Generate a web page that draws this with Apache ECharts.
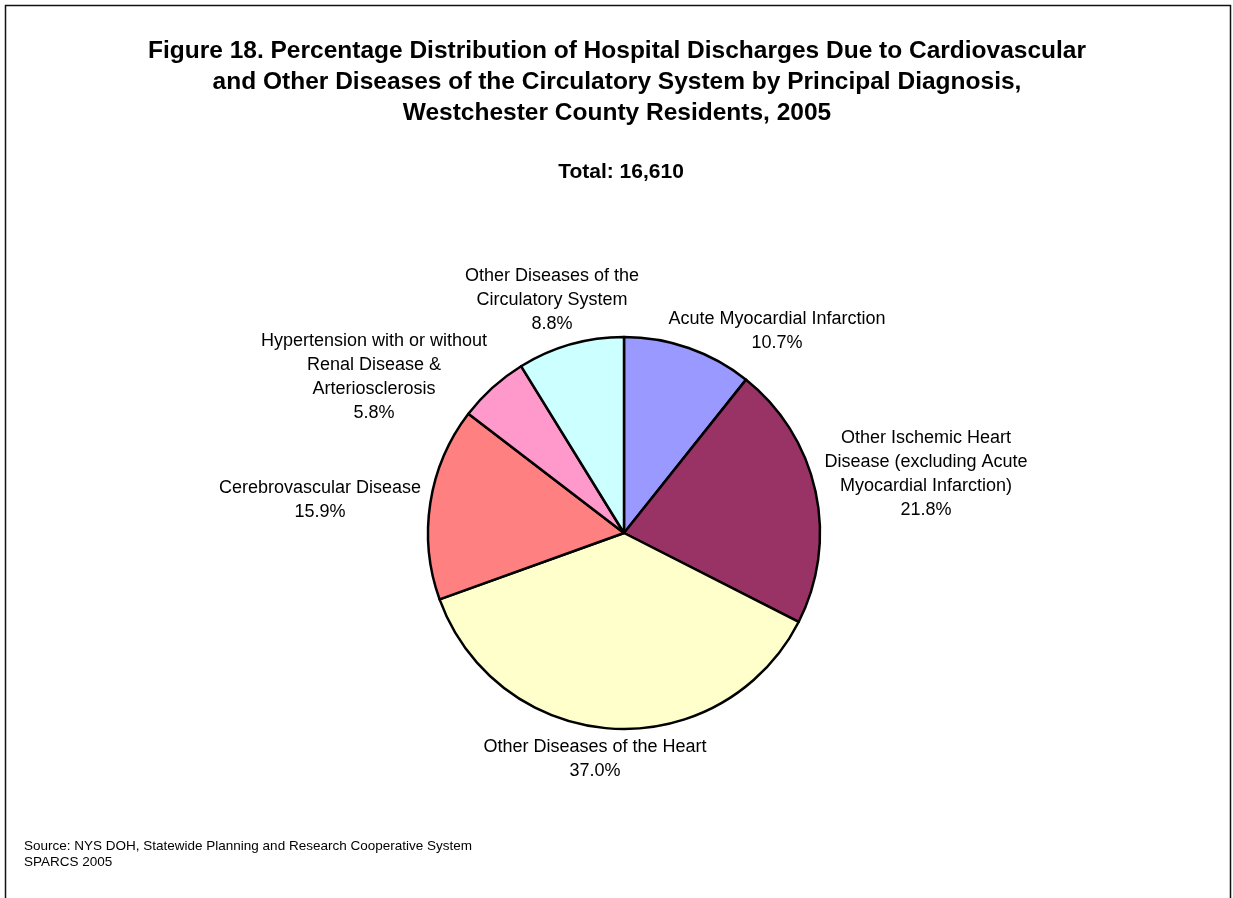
<!DOCTYPE html>
<html>
<head>
<meta charset="utf-8">
<script src="https://cdn.jsdelivr.net/npm/echarts@6/dist/echarts.min.js"></script>
<style>
  html, body { margin: 0; padding: 0; background: #fff; }
  #chart { width: 1233px; height: 898px; }
</style>
</head>
<body>
<div id="chart"></div>
<script>
// categories, clockwise from 12 o'clock
var categories = [
  "Acute Myocardial Infarction",
  "Other Ischemic Heart\nDisease (excluding Acute\nMyocardial Infarction)",
  "Other Diseases of the Heart",
  "Cerebrovascular Disease",
  "Hypertension with or without\nRenal Disease &\nArteriosclerosis",
  "Other Diseases of the\nCirculatory System"
];
var percents = [10.7, 21.8, 37.0, 15.9, 5.8, 8.8];
var sliceColors = ["#9999FF", "#993366", "#FFFFCC", "#FF8080", "#FF99CC", "#CCFFFF"];

// where each label block is centred (px), like the excel layout
var labelSpots = [
  [777, 331],
  [926, 474],
  [595, 759],
  [320, 500],
  [374, 377],
  [552, 300]
];

var chart = echarts.init(document.getElementById("chart"));

var option = {
  backgroundColor: "#fff",
  animation: false,
  title: [
    {
      text: "Figure 18. Percentage Distribution of Hospital Discharges Due to Cardiovascular\nand Other Diseases of the Circulatory System by Principal Diagnosis,\nWestchester County Residents, 2005",
      left: 612,
      top: 31,
      textAlign: "center",
      textStyle: {
        fontFamily: "Liberation Sans",
        fontSize: 24.5,
        fontWeight: "bold",
        lineHeight: 31,
        color: "#000"
      }
    },
    {
      text: "Total: 16,610",
      left: 616,
      top: 155,
      textAlign: "center",
      textStyle: {
        fontFamily: "Liberation Sans",
        fontSize: 21,
        fontWeight: "bold",
        lineHeight: 24,
        color: "#000"
      }
    }
  ],
  graphic: [
    {
      // outer frame
      type: "rect",
      shape: { x: 5.5, y: 5.5, width: 1225, height: 920 },
      style: { fill: "none", stroke: "#111", lineWidth: 1.5 },
      silent: true
    },
    {
      type: "text",
      left: 24,
      top: 838,
      style: {
        text: "Source: NYS DOH, Statewide Planning and Research Cooperative System\nSPARCS 2005",
        font: "13.5px 'Liberation Sans'",
        lineHeight: 16,
        fill: "#000"
      }
    }
  ],
  series: [
    {
      type: "pie",
      center: [624, 533],
      radius: 196,
      startAngle: 90,
      clockwise: true,
      avoidLabelOverlap: false,
      data: categories.map(function (c, i) {
        return { name: c, value: percents[i], itemStyle: { color: sliceColors[i] } };
      }),
      itemStyle: { borderColor: "#000", borderWidth: 2.5 },
      label: {
        show: true,
        position: "outside",
        fontFamily: "Liberation Sans",
        fontSize: 18,
        lineHeight: 24,
        color: "#000",
        formatter: function (p) {
          return p.name + "\n" + p.value.toFixed(1) + "%";
        }
      },
      labelLine: { show: false },
      labelLayout: function (params) {
        var s = labelSpots[params.dataIndex];
        return { x: s[0], y: s[1], align: "center", verticalAlign: "middle" };
      },
      emphasis: { disabled: true }
    }
  ]
};

chart.setOption(option);
</script>
</body>
</html>
